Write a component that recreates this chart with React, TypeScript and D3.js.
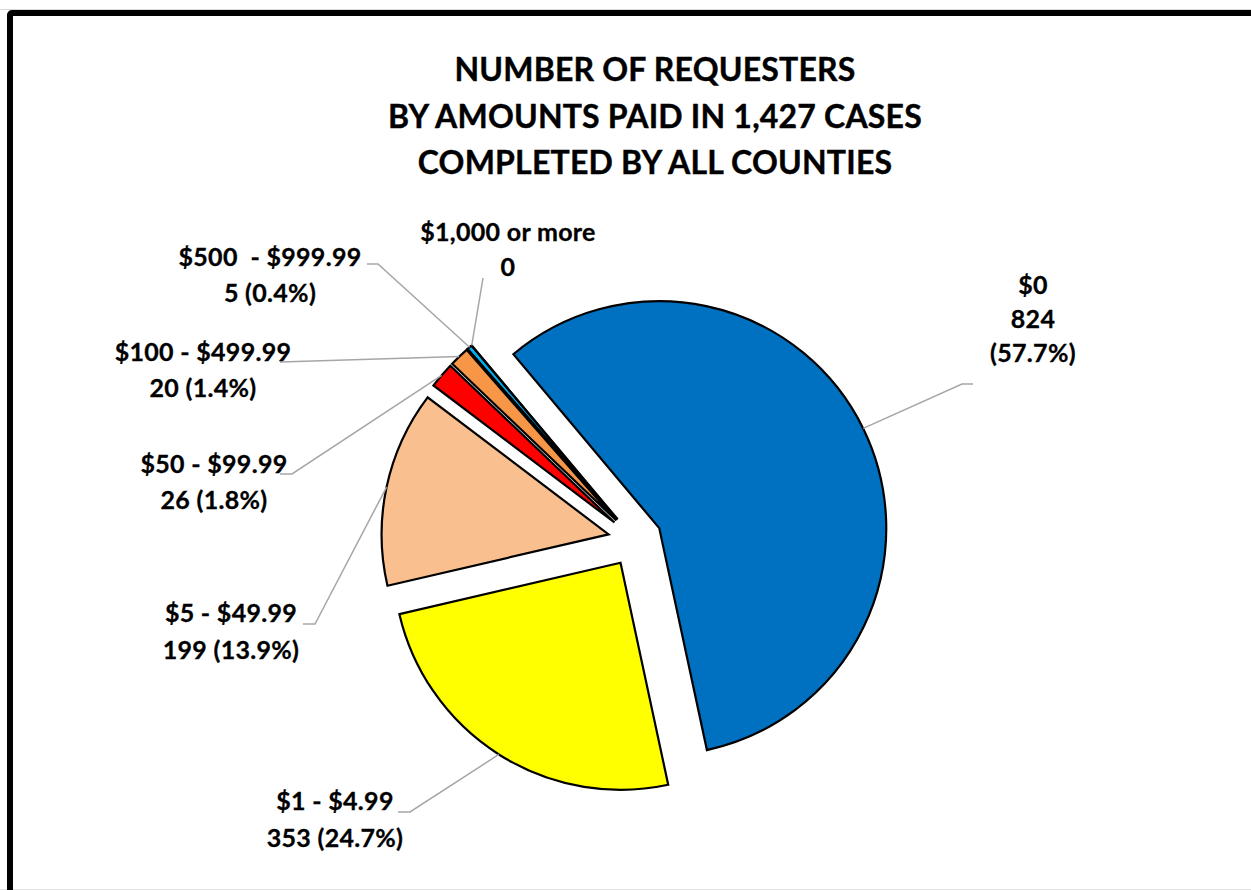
import React from "react";
import * as d3 from "d3";

const categories = ["$0", "$1 - $4.99", "$5 - $49.99", "$50 - $99.99", "$100 - $499.99", "$500  - $999.99", "$1,000 or more"];
const counts = [824, 353, 199, 26, 20, 5, 0];
const percentLabels = ["(57.7%)", "(24.7%)", "(13.9%)", "(1.8%)", "(1.4%)", "(0.4%)", ""];
const colors = ["#0070c0", "#ffff00", "#f9bf8f", "#ff0000", "#f79646", "#00b0f0", "#7f7f7f"];
const titleLines = ["NUMBER OF REQUESTERS", "BY AMOUNTS PAID IN 1,427 CASES", "COMPLETED BY ALL COUNTIES"];

// label layout: text center x, first baseline y, line gap, leader elbow points (from label side)
const labelLayout = [
  { x: 1033, y: 294, gap: 34, path: [[973, 384], [962, 384]] },
  { x: 335, y: 810, gap: 37, path: [[398, 812], [410, 812]] },
  { x: 231, y: 622, gap: 37, path: [[303, 624], [315, 624]] },
  { x: 214, y: 473, gap: 36, path: [[280, 474], [292, 474]] },
  { x: 203, y: 361, gap: 36, path: [[280, 362]] },
  { x: 270, y: 266, gap: 36, path: [[367, 264], [378, 264]] },
  { x: 508, y: 241, gap: 35, path: [[483, 278]] },
];

const W = 1251;
const H = 890;
const cx = 635;
const cy = 540;
const R = 227;
const EXPLODE = 27;
const FONT = "Lato, 'Open Sans', sans-serif";

export default function App() {
  const deg = Math.PI / 180;
  const pie = d3
    .pie<number>()
    .sort(null)
    .startAngle(-40 * deg)
    .endAngle(320 * deg)
    .value((d) => d);
  const arcs = pie(counts);
  const arcGen = d3.arc<d3.PieArcDatum<number>>().innerRadius(0).outerRadius(R);

  const labelText = (i: number) => {
    if (i === 0) return [categories[0], String(counts[0]), percentLabels[0]];
    if (counts[i] === 0) return [categories[i], String(counts[i])];
    return [categories[i], `${counts[i]} ${percentLabels[i]}`];
  };

  return (
    <svg width={W} height={H} style={{ position: "absolute", left: 0, top: 0, background: "#fff" }}>
      <rect x={0} y={0} width={W} height={H} fill="#ffffff" />
      <line x1={0} y1={9.5} x2={W} y2={9.5} stroke="#d9d9d9" strokeWidth={1} />
      <line x1={0} y1={889.5} x2={W} y2={889.5} stroke="#e3e3e3" strokeWidth={1} />
      <rect x={10} y={13} width={W + 50} height={H + 50} fill="none" stroke="#000" strokeWidth={6} rx={2} />

      {titleLines.map((t, i) => (
        <text
          key={i}
          x={655}
          y={81 + i * 46.5}
          textAnchor="middle"
          fontFamily={FONT}
          fontWeight={700}
          fontSize={32}
          letterSpacing={0.2}
          stroke="#000"
          strokeWidth={0.4}
          fill="#000"
        >
          {t}
        </text>
      ))}

      {arcs.map((a, i) => {
        const mid = (a.startAngle + a.endAngle) / 2;
        const dx = EXPLODE * Math.sin(mid);
        const dy = -EXPLODE * Math.cos(mid);
        return (
          <path
            key={i}
            d={arcGen(a) || ""}
            transform={`translate(${cx + dx},${cy + dy})`}
            fill={colors[i]}
            stroke="#000"
            strokeWidth={2.2}
            strokeLinejoin="miter"
          />
        );
      })}

      {arcs.map((a, i) => {
        const mid = (a.startAngle + a.endAngle) / 2;
        const ax = cx + EXPLODE * Math.sin(mid) + R * Math.sin(mid);
        const ay = cy - EXPLODE * Math.cos(mid) - R * Math.cos(mid);
        const L = labelLayout[i];
        const pts: [number, number][] = [...(L.path as [number, number][]), [ax, ay]];
        const line = d3.line()(pts) || "";
        return <path key={"l" + i} d={line} fill="none" stroke="#a6a6a6" strokeWidth={1.5} />;
      })}

      {arcs.map((a, i) => {
        const L = labelLayout[i];
        const lines = labelText(i);
        return (
          <text
            key={"t" + i}
            textAnchor="middle"
            fontFamily={FONT}
            fontWeight={700}
            fontSize={25}
            letterSpacing={0.3}
            stroke="#000"
            strokeWidth={0.3}
            fill="#000"
          >
            {lines.map((s, j) => (
              <tspan key={j} x={L.x} y={L.y + j * L.gap} style={{ whiteSpace: "pre" }}>
                {s}
              </tspan>
            ))}
          </text>
        );
      })}
    </svg>
  );
}
